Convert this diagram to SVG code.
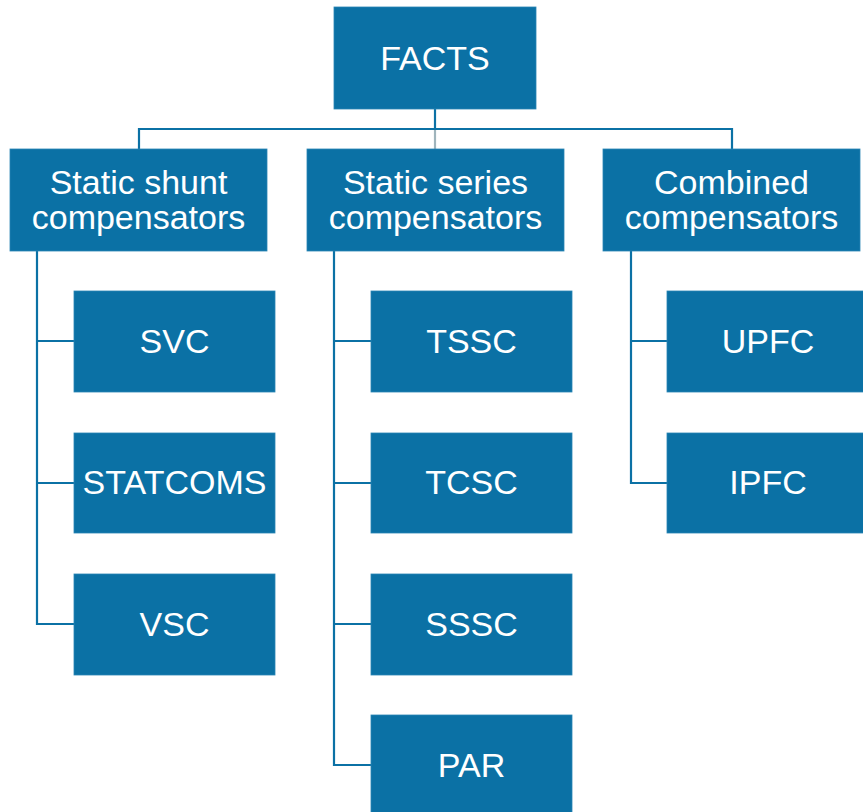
<svg xmlns="http://www.w3.org/2000/svg" width="863" height="812" viewBox="0 0 863 812">
  <style>
    .box { fill: #0b71a5; stroke: #2a86b4; stroke-width: 0.8; }
    .lbl { fill: #ffffff; font-family: "Liberation Sans", Arial, sans-serif; font-size: 34px; text-anchor: middle; }
    .wire { fill: none; stroke: #0b71a5; stroke-width: 2.2; }
    .wire-grey { fill: none; stroke: #9fb4bc; stroke-width: 2.2; }
  </style>
  <rect width="863" height="812" fill="#ffffff"/>

  <g id="connectors">
    <path class="wire" d="M435 109 V129"/>
    <path class="wire" d="M139 149 V129 H732 V149"/>
    <path class="wire-grey" d="M435 130 V149"/>
    <!-- shunt branch -->
    <path class="wire" d="M37 251 V624 H74 M37 341 H74 M37 483 H74"/>
    <!-- series branch -->
    <path class="wire" d="M334 251 V765 H371 M334 341 H371 M334 483 H371 M334 624 H371"/>
    <!-- combined branch -->
    <path class="wire" d="M631 251 V483 H667 M631 341 H667"/>
  </g>

  <g id="facts">
    <rect class="box" x="334" y="7" width="202" height="102"/>
    <text class="lbl" x="435" y="70">FACTS</text>
  </g>

  <g id="shunt">
    <rect class="box" x="10" y="149" width="257" height="102"/>
    <text class="lbl" x="138.5" y="194">Static shunt</text>
    <text class="lbl" x="138.5" y="229">compensators</text>
  </g>
  <g id="series">
    <rect class="box" x="307" y="149" width="257" height="102"/>
    <text class="lbl" x="435.5" y="194">Static series</text>
    <text class="lbl" x="435.5" y="229">compensators</text>
  </g>
  <g id="combined">
    <rect class="box" x="603" y="149" width="257" height="102"/>
    <text class="lbl" x="731.5" y="194">Combined</text>
    <text class="lbl" x="731.5" y="229">compensators</text>
  </g>

  <g id="svc">
    <rect class="box" x="74" y="291" width="201" height="101"/>
    <text class="lbl" x="174.5" y="353">SVC</text>
  </g>
  <g id="statcoms">
    <rect class="box" x="74" y="433" width="201" height="100"/>
    <text class="lbl" x="174.5" y="494">STATCOMS</text>
  </g>
  <g id="vsc">
    <rect class="box" x="74" y="574" width="201" height="101"/>
    <text class="lbl" x="174.5" y="636">VSC</text>
  </g>

  <g id="tssc">
    <rect class="box" x="371" y="291" width="201" height="101"/>
    <text class="lbl" x="471.5" y="353">TSSC</text>
  </g>
  <g id="tcsc">
    <rect class="box" x="371" y="433" width="201" height="100"/>
    <text class="lbl" x="471.5" y="494">TCSC</text>
  </g>
  <g id="sssc">
    <rect class="box" x="371" y="574" width="201" height="101"/>
    <text class="lbl" x="471.5" y="636">SSSC</text>
  </g>
  <g id="par">
    <rect class="box" x="371" y="715" width="201" height="101"/>
    <text class="lbl" x="471.5" y="777">PAR</text>
  </g>

  <g id="upfc">
    <rect class="box" x="667" y="291" width="200" height="101"/>
    <text class="lbl" x="768" y="353">UPFC</text>
  </g>
  <g id="ipfc">
    <rect class="box" x="667" y="433" width="200" height="100"/>
    <text class="lbl" x="768" y="494">IPFC</text>
  </g>
</svg>
